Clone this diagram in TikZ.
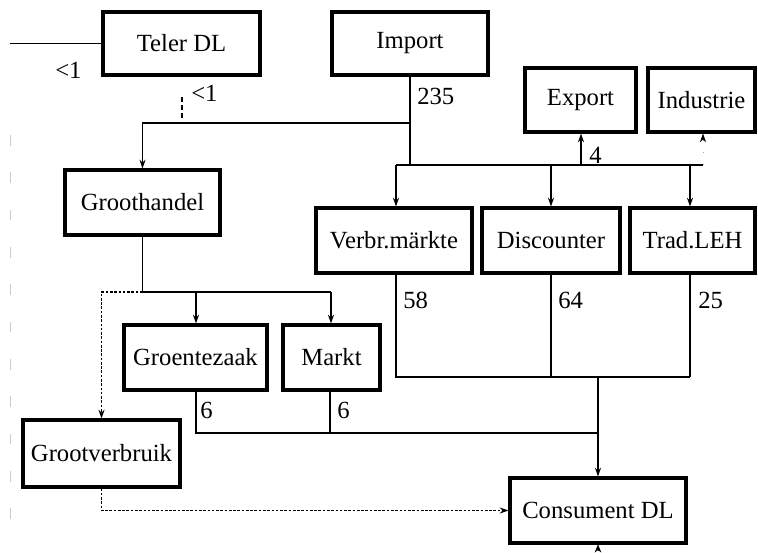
\documentclass[tikz,border=0pt]{standalone}
\usepackage{fontspec}
\setmainfont{Liberation Serif}
\usetikzlibrary{arrows.meta}
\begin{document}
\begin{tikzpicture}[x=0.75pt,y=-0.75pt,
  box/.style={draw,line width=2.3pt,inner sep=0pt,font=\fontsize{18.5}{20}\selectfont},
  conn/.style={line width=1.1pt},
  arr/.style={conn,-{Stealth[length=6.5pt,width=4.5pt]}},
  dots/.style={line width=1.1pt,dash pattern=on 2pt off 1.2pt},
  num/.style={anchor=west,inner sep=0pt,font=\fontsize{18.5}{20}\selectfont}]
\useasboundingbox (0,0) rectangle (758,553);
% boxes
\node[box,minimum width=157*0.75pt,minimum height=63*0.75pt] (teler) at (181.5,43.5) {Teler DL};
\node[box,minimum width=156*0.75pt,minimum height=63*0.75pt] (import) at (410,43.5) {Import};
\node[box,minimum width=111*0.75pt,minimum height=64*0.75pt] (export) at (580.5,100) {Export};
\node[box,minimum width=107*0.75pt,minimum height=64*0.75pt] (industrie) at (701.5,100) {Industrie};
\node[box,minimum width=155*0.75pt,minimum height=65*0.75pt] (groot) at (142.5,202.5) {Groothandel};
\node[box,minimum width=156*0.75pt,minimum height=65*0.75pt] (verbr) at (394,240.5) {Verbr.märkte};
\node[box,minimum width=138*0.75pt,minimum height=65*0.75pt] (disc) at (551,240.5) {Discounter};
\node[box,minimum width=125*0.75pt,minimum height=65*0.75pt] (trad) at (692.5,240.5) {Trad.LEH};
\node[box,minimum width=143*0.75pt,minimum height=65*0.75pt] (groente) at (195.5,357.5) {Groentezaak};
\node[box,minimum width=97*0.75pt,minimum height=65*0.75pt] (markt) at (331.5,357.5) {Markt};
\node[box,minimum width=157*0.75pt,minimum height=67*0.75pt] (grootv) at (101.5,453.5) {Grootverbruik};
\node[box,minimum width=176*0.75pt,minimum height=65*0.75pt] (consument) at (598,510.5) {Consument DL};
% coordinates
\coordinate (lstart) at (10,43.5);
\coordinate (tick1) at (182,97);
\coordinate (tick2) at (182,120);
\coordinate (ja) at (410,123);
\coordinate (jb) at (410,165);
\coordinate (h1) at (396,165);
\coordinate (h2) at (551,165);
\coordinate (h3) at (690,165);
\coordinate (hx) at (581,165);
\coordinate (hend) at (703,165);
\coordinate (b1) at (396,377);
\coordinate (b2) at (551,377);
\coordinate (b3) at (690,377);
\coordinate (bc) at (598,377);
\coordinate (g1) at (142.5,292);
\coordinate (g2) at (196,292);
\coordinate (g3) at (331,292);
\coordinate (gd) at (101.5,292);
\coordinate (m1) at (196,433);
\coordinate (m2) at (330,433);
\coordinate (mc) at (598,433);
\coordinate (cb) at (598,551);
\coordinate (edgeA) at (10,135);
\coordinate (edgeB) at (10,530);
% faint left edge
\draw[gray!40,line width=0.6pt,dash pattern=on 8pt off 20pt] (edgeA) -- (edgeB);
% Teler DL
\draw[conn] (lstart) -- (teler.west);
\node[num] (lt1) at (55,70) {<1};
\draw[line width=0.8pt,dash pattern=on 4pt off 2pt] (tick1) -- (tick2);
\node[num] (lt2) at (191,93) {<1};
% Import
\draw[conn] (import.south) -- (jb);
\draw[arr] (ja) -| (groot.north);
\node[num] (n235) at (417,96) {235};
\draw[conn] (h1) -- (hend);
\draw[arr] (h1) -- (h1 |- verbr.north);
\draw[arr] (h2) -- (h2 |- disc.north);
\draw[arr] (h3) -- (h3 |- trad.north);
\draw[arr] (hx) -- (hx |- export.south);
\node[num] (n4) at (589,155) {4};
\draw[gray!70,line width=0.6pt,dash pattern=on 1pt off 8pt,-{Stealth[length=6.5pt,width=4.5pt,color=black]}] (hend) -- (hend |- industrie.south);
% retail to consumer
\draw[conn] (h1 |- verbr.south) -- (b1) -- (b3);
\draw[conn] (h2 |- disc.south) -- (b2);
\draw[conn] (h3 |- trad.south) -- (b3);
\draw[arr] (bc) -- (consument.north);
\node[num] (n58) at (403,300) {58};
\node[num] (n64) at (558,300) {64};
\node[num] (n25) at (698,300) {25};
% Groothandel
\draw[conn] (groot.south) -- (g1) -- (g3);
\draw[arr] (g2) -- (g2 |- groente.north);
\draw[arr] (g3) -- (g3 |- markt.north);
\draw[dots,-{Stealth[length=6.5pt,width=4.5pt]}] (g1) -- (gd) -- (grootv.north);
\draw[conn] (m1 |- groente.south) -- (m1) -- (mc);
\draw[conn] (m2 |- markt.south) -- (m2);
\node[num] (n6a) at (200,410) {6};
\node[num] (n6b) at (337,410) {6};
\draw[dots,-{Stealth[length=6.5pt,width=4.5pt]}] (grootv.south) |- (consument.west);
\draw[-{Stealth[length=6pt,width=5pt]},line width=0.4pt] (cb) -- (consument.south);
\end{tikzpicture}
\end{document}
